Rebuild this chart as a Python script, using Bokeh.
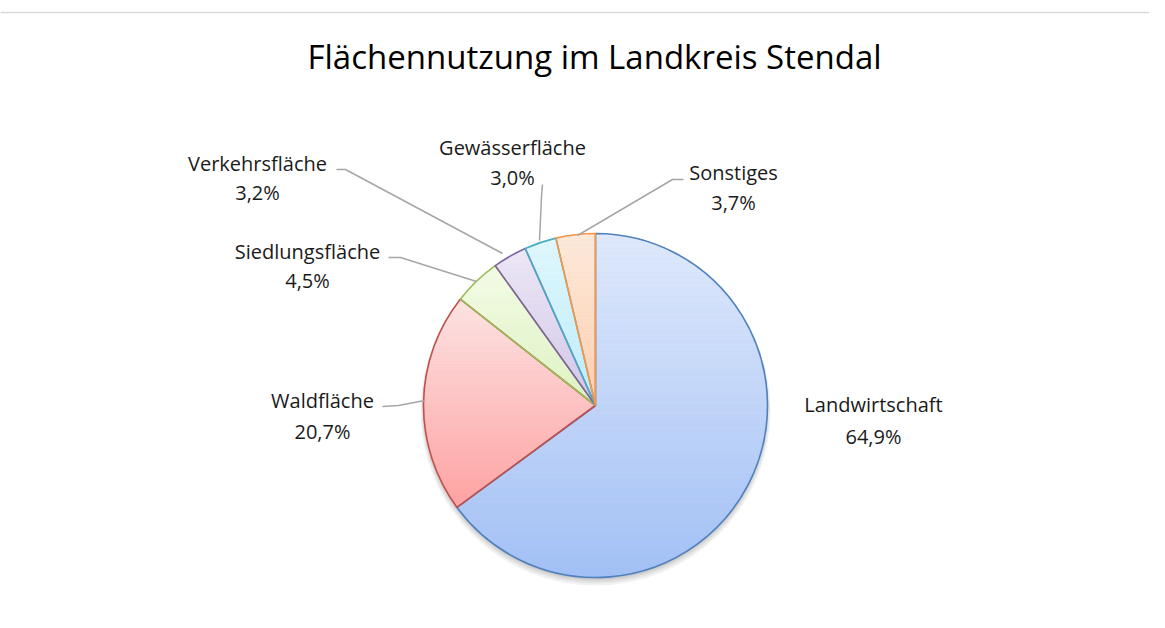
import numpy as np
from bokeh.plotting import figure
from bokeh.models import ColumnDataSource, Span
from bokeh.core.properties import value
from bokeh.embed import file_html
from bokeh.resources import INLINE

# ---- data ----
categories = ["Landwirtschaft", "Waldfläche", "Siedlungsfläche", "Verkehrsfläche", "Gewässerfläche", "Sonstiges"]
shares = [64.9, 20.7, 4.5, 3.2, 3.0, 3.7]
pct_labels = ["64,9%", "20,7%", "4,5%", "3,2%", "3,0%", "3,7%"]
title_text = "Flächennutzung im Landkreis Stendal"

# ---- styles ----
top_colors = ["#dfe9fc", "#fde3e3", "#f4fde6", "#ede8f7", "#e0f7fd", "#feeadb"]
bot_colors = ["#a2c0f5", "#ffa2a2", "#def3c3", "#d3c6e9", "#bdeefb", "#fdcfae"]
border_colors = ["#4f81bd", "#c0504d", "#9bbb59", "#8064a2", "#4bacc6", "#f79646"]

W, H = 1149, 612


def X(ix):
    return ix


def Y(iy):
    return H - iy


cx, cy, R = X(595), Y(405), 172.0

p = figure(width=W, height=H, x_range=(0, W), y_range=(0, H), output_backend="svg",
           toolbar_location=None, min_border=0, outline_line_color=None)
p.axis.visible = False
p.grid.visible = False
p.background_fill_color = "white"

# top border line of chart area
p.add_layout(Span(location=Y(12), dimension="width", line_color="#d9d9d9", line_width=1.5))

# soft shadow
for k, a in enumerate([0.05, 0.05, 0.06, 0.07]):
    p.circle(x=[cx], y=[cy - 5 + k], radius=R + 3 - k, fill_color="#000000", fill_alpha=a, line_color=None)


def hexrgb(h):
    h = h.lstrip("#")
    return np.array([int(h[i:i + 2], 16) for i in (0, 2, 4)], dtype=float)


def rgbhex(c):
    c = np.clip(np.round(c), 0, 255).astype(int)
    return "#%02x%02x%02x" % tuple(c)


def clip_poly(pts, yv, keep_above):
    out = []
    n = len(pts)
    for i in range(n):
        a = pts[i]
        b = pts[(i + 1) % n]
        ina = (a[1] >= yv) if keep_above else (a[1] <= yv)
        inb = (b[1] >= yv) if keep_above else (b[1] <= yv)
        if ina:
            out.append(a)
        if ina != inb:
            t = (yv - a[1]) / (b[1] - a[1])
            out.append((a[0] + t * (b[0] - a[0]), yv))
    return out


fr = np.array(shares) / sum(shares)
cum = np.concatenate([[0], np.cumsum(fr)])
starts = np.pi / 2 - 2 * np.pi * cum[:-1]
ends = np.pi / 2 - 2 * np.pi * cum[1:]

bx, by, bc = [], [], []
NB = 70
for i in range(len(shares)):
    n = max(10, int(fr[i] * 600))
    th = np.linspace(starts[i], ends[i], n)
    poly = [(cx, cy)] + [(cx + R * np.cos(t), cy + R * np.sin(t)) for t in th]
    ys = [q[1] for q in poly]
    ymin, ymax = min(ys), max(ys)
    edges = np.linspace(ymax, ymin, NB + 1)
    ct, cb = hexrgb(top_colors[i]), hexrgb(bot_colors[i])
    for k in range(NB):
        hi, lo = edges[k], edges[k + 1]
        pc = clip_poly(poly, lo, True)
        if len(pc) < 3:
            continue
        pc = clip_poly(pc, hi, False)
        if len(pc) < 3:
            continue
        t = (k + 0.5) / NB
        col = rgbhex(ct + (cb - ct) * t)
        bx.append([q[0] for q in pc])
        by.append([q[1] for q in pc])
        bc.append(col)

p.patches(xs="xs", ys="ys", fill_color="c", line_color="c", line_width=0.6,
          source=ColumnDataSource(dict(xs=bx, ys=by, c=bc)))

p.wedge(x=cx, y=cy, radius=R, start_angle=starts, end_angle=ends, direction="clock",
        fill_alpha=0, line_color=border_colors, line_width=1.6)

# leader lines (image pixel coordinates)
leaders = [
    [(382, 406), (398, 405), (424, 400)],
    [(388, 257), (400, 257), (476, 281)],
    [(336, 169), (345, 169), (502, 253)],
    [(542, 184), (541, 196), (539, 240)],
    [(683, 179), (672, 179), (577, 235)],
]
for L in leaders:
    p.line(x=[X(a) for a, b in L], y=[Y(b) for a, b in L], line_color="#a6a6a6", line_width=1.5)

# labels
lab_pos = [(873, 404, 436), (322, 400, 431), (307, 251, 280), (257, 163, 192), (512, 147, 177), (733, 172, 202)]
font = value("Open Sans")
for i, (lx, ly1, ly2) in enumerate(lab_pos):
    p.text(x=[X(lx)], y=[Y(ly1)], text=[categories[i]], text_font=font, text_font_size="20px",
           text_align="center", text_baseline="middle", text_color="#1a1a1a")
    p.text(x=[X(lx)], y=[Y(ly2)], text=[pct_labels[i]], text_font=font, text_font_size="20px",
           text_align="center", text_baseline="middle", text_color="#1a1a1a")

p.text(x=[X(594)], y=[Y(56)], text=[title_text], text_font=font, text_font_size="33px",
       text_align="center", text_baseline="middle", text_color="#000000")

open("out.html", "w").write(file_html(p, INLINE))
